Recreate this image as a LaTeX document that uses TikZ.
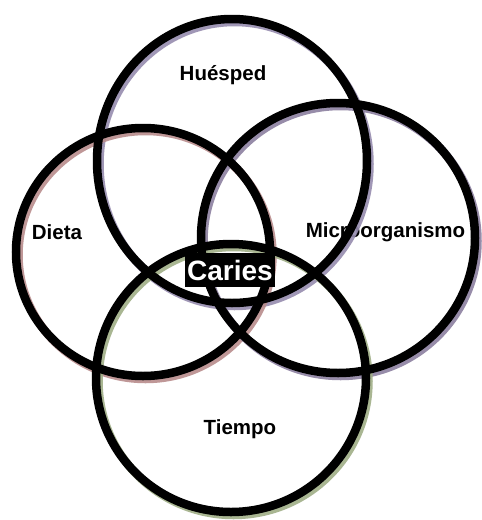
\documentclass[tikz,border=0pt]{standalone}
\usepackage{fontspec}
\setmainfont{Liberation Sans}
\begin{document}
\begin{tikzpicture}[x=1pt,y=-1pt,
  ring/.style={draw=black, line width=8.5pt},
  shade/.style={line width=8.5pt, opacity=0.9},
  lbl/.style={font=\bfseries\fontsize{20.5}{24}\selectfont, inner sep=0pt, anchor=center},
  core/.style={fill=black, text=white, font=\bfseries\fontsize{28}{32}\selectfont, inner sep=0pt, minimum width=90pt, minimum height=34pt}]
\useasboundingbox (0,0) rectangle (482,520);
\fill[white] (0,0) rectangle (482,520);
% labels
\node[lbl] (hue) at (223,75) {Huésped};
\node[lbl] (die) at (57,232) {Dieta};
\node[lbl] (mic) at (385.5,232.5) {Microorganismo};
\node[lbl] (tie) at (240,429) {Tiempo};
% shadows
\draw[shade, draw={rgb,255:red,150;green,140;blue,175}] (234.5,164) ellipse [x radius=135pt, y radius=142pt];
\draw[shade, draw={rgb,255:red,185;green,140;blue,140}] (145.5,255) ellipse [x radius=127pt, y radius=124pt];
\draw[shade, draw={rgb,255:red,140;green,128;blue,160}] (340.5,241) ellipse [x radius=137pt, y radius=135pt];
\draw[shade, draw={rgb,255:red,160;green,175;blue,135}] (233.5,381) ellipse [x radius=135pt, y radius=134pt];
% rings
\draw[ring] (232,161) ellipse [x radius=135pt, y radius=142pt];
\draw[ring] (143,252) ellipse [x radius=127pt, y radius=124pt];
\draw[ring] (338,238) ellipse [x radius=137pt, y radius=135pt];
\draw[ring] (231,378) ellipse [x radius=135pt, y radius=134pt];
% center
\node[core] (car) at (230,270) {Caries};
\end{tikzpicture}
\end{document}
